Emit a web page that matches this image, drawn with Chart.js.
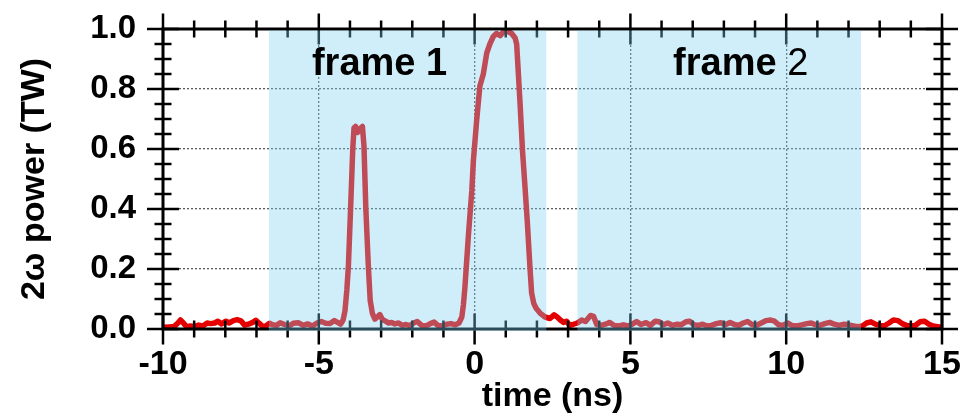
<!DOCTYPE html>
<html>
<head>
<meta charset="utf-8">
<script src="https://cdn.jsdelivr.net/npm/chart.js@4/dist/chart.umd.min.js"></script>
<style>
  html, body { margin: 0; padding: 0; background: #fff; }
</style>
</head>
<body>
<canvas id="chart" width="964" height="413"></canvas>
<script>
const timeNs = [
  -9.95, -9.80, -9.65, -9.52, -9.44, -9.36, -9.25, -9.12, -9.00, -8.86,
  -8.72, -8.58, -8.48, -8.34, -8.24, -8.12, -7.98, -7.88, -7.74, -7.62,
  -7.50, -7.38, -7.26, -7.12, -7.02, -6.92, -6.80, -6.70, -6.58, -6.48,
  -6.36, -6.24, -6.10, -5.96, -5.82, -5.66, -5.50, -5.36, -5.20, -5.06,
  -4.92, -4.78, -4.64, -4.50, -4.40, -4.30, -4.22, -4.16, -4.10, -4.05,
  -3.98, -3.91, -3.87, -3.82, -3.76, -3.68, -3.60, -3.55, -3.49, -3.41,
  -3.35, -3.28, -3.20, -3.12, -3.04, -2.96, -2.86, -2.76, -2.66, -2.56,
  -2.44, -2.32, -2.20, -2.08, -1.96, -1.84, -1.70, -1.56, -1.42, -1.30,
  -1.18, -1.04, -0.90, -0.76, -0.62, -0.50, -0.41, -0.36, -0.31, -0.20,
  -0.09, -0.04, 0.07, 0.17, 0.28, 0.39, 0.49, 0.60, 0.70, 0.82,
  0.92, 1.00, 1.10, 1.19, 1.30, 1.35, 1.40, 1.46, 1.54, 1.62,
  1.69, 1.78, 1.83, 1.90, 1.98, 2.10, 2.26, 2.42, 2.55, 2.65,
  2.75, 2.85, 2.95, 3.05, 3.15, 3.30, 3.44, 3.56, 3.72, 3.82,
  3.92, 4.06, 4.20, 4.34, 4.48, 4.62, 4.78, 4.92, 5.06, 5.20,
  5.34, 5.50, 5.64, 5.80, 5.92, 6.06, 6.20, 6.36, 6.50, 6.62,
  6.78, 6.90, 7.04, 7.18, 7.32, 7.46, 7.60, 7.76, 7.90, 8.04,
  8.20, 8.34, 8.48, 8.62, 8.76, 8.90, 9.04, 9.20, 9.36, 9.50,
  9.62, 9.76, 9.90, 10.04, 10.18, 10.34, 10.50, 10.66, 10.80, 10.94,
  11.08, 11.24, 11.40, 11.54, 11.70, 11.86, 12.00, 12.16, 12.30, 12.44,
  12.58, 12.72, 12.86, 13.00, 13.14, 13.30, 13.44, 13.58, 13.72, 13.86,
  14.00, 14.14, 14.30, 14.44, 14.58, 14.72, 14.86, 14.98
];
const powerTW = [
  0.006, 0.007, 0.008, 0.020, 0.030, 0.022, 0.008, 0.010, 0.008, 0.013,
  0.010, 0.020, 0.018, 0.020, 0.026, 0.017, 0.026, 0.020, 0.028, 0.031,
  0.027, 0.013, 0.016, 0.022, 0.029, 0.020, 0.008, 0.010, 0.019, 0.014,
  0.012, 0.021, 0.015, 0.010, 0.019, 0.021, 0.012, 0.017, 0.010, 0.020,
  0.025, 0.019, 0.018, 0.028, 0.022, 0.016, 0.030, 0.060, 0.130, 0.210,
  0.400, 0.600, 0.670, 0.675, 0.655, 0.668, 0.675, 0.610, 0.400, 0.210,
  0.095, 0.052, 0.033, 0.040, 0.048, 0.032, 0.026, 0.020, 0.022, 0.017,
  0.020, 0.012, 0.015, 0.011, 0.020, 0.025, 0.012, 0.010, 0.018, 0.023,
  0.012, 0.010, 0.016, 0.018, 0.014, 0.020, 0.040, 0.080, 0.140, 0.310,
  0.460, 0.560, 0.700, 0.810, 0.850, 0.920, 0.950, 0.975, 0.985, 0.978,
  0.990, 0.998, 0.990, 0.985, 0.970, 0.950, 0.860, 0.750, 0.590, 0.470,
  0.360, 0.200, 0.120, 0.085, 0.068, 0.053, 0.040, 0.035, 0.047, 0.040,
  0.030, 0.022, 0.026, 0.012, 0.015, 0.020, 0.030, 0.025, 0.045, 0.042,
  0.015, 0.012, 0.016, 0.022, 0.012, 0.010, 0.014, 0.010, 0.016, 0.025,
  0.015, 0.021, 0.012, 0.026, 0.024, 0.014, 0.020, 0.012, 0.016, 0.014,
  0.024, 0.026, 0.014, 0.012, 0.016, 0.010, 0.012, 0.018, 0.021, 0.014,
  0.022, 0.015, 0.012, 0.020, 0.025, 0.015, 0.012, 0.020, 0.028, 0.030,
  0.026, 0.014, 0.012, 0.020, 0.012, 0.010, 0.014, 0.018, 0.020, 0.014,
  0.012, 0.018, 0.022, 0.016, 0.012, 0.016, 0.014, 0.010, 0.008, 0.010,
  0.020, 0.024, 0.016, 0.012, 0.010, 0.020, 0.030, 0.028, 0.018, 0.012,
  0.010, 0.012, 0.024, 0.026, 0.016, 0.010, 0.008, 0.006
];

const xTicks = [-10, -5, 0, 5, 10, 15];
const yTicks = [0.0, 0.2, 0.4, 0.6, 0.8, 1.0];

// the two camera frames (ns)
const frameStart = [-6.6, 3.3];
const frameEnd = [2.3, 12.4];
const frameWord = ['frame', 'frame'];
const frameNum = ['1', '2'];

const FONT = '"Liberation Sans", Arial, sans-serif';

const axisBox = {
  id: 'axisBox',
  afterDraw(chart, args, opts) {
    const { ctx, chartArea: a, scales: { x, y } } = chart;
    ctx.save();

    // crossing ticks on all four sides
    ctx.strokeStyle = '#000';
    ctx.lineWidth = 2.5;
    ctx.beginPath();
    for (let v = x.min; v <= x.max; v += 1) {
      const px = x.getPixelForValue(v);
      const len = v % 5 === 0 ? 15.5 : 8.5;
      ctx.moveTo(px, a.top - len); ctx.lineTo(px, a.top + len);
      ctx.moveTo(px, a.bottom - len); ctx.lineTo(px, a.bottom + len);
    }
    for (let i = 0; i <= 20; i++) {
      const py = y.getPixelForValue(i * 0.05);
      const len = i % 4 === 0 ? 16 : 8.5;
      ctx.moveTo(a.left - len, py); ctx.lineTo(a.left + len, py);
      ctx.moveTo(a.right - len, py); ctx.lineTo(a.right + len, py);
    }
    ctx.stroke();

    ctx.lineWidth = 3;
    ctx.strokeRect(a.left, a.top, a.right - a.left, a.bottom - a.top);

    // translucent frame windows, laid over the trace
    ctx.fillStyle = 'rgba(125,207,242,0.36)';
    const top = a.top + 1.5;
    const bot = a.bottom + 2;
    for (let i = 0; i < frameStart.length; i++) {
      const x0 = x.getPixelForValue(frameStart[i]);
      const x1 = x.getPixelForValue(frameEnd[i]);
      ctx.fillRect(x0, top, x1 - x0, bot - top);
    }

    // frame captions
    ctx.fillStyle = '#000';
    ctx.textBaseline = 'alphabetic';
    ctx.textAlign = 'left';
    for (let i = 0; i < frameWord.length; i++) {
      const px = x.getPixelForValue(opts.labelX[i]);
      const py = y.getPixelForValue(opts.labelY);
      ctx.font = 'bold 38px ' + FONT;
      const word = frameWord[i] + ' ';
      ctx.fillText(word, px, py);
      const w = ctx.measureText(word).width;
      ctx.font = (opts.numBold[i] ? 'bold ' : '') + '38px ' + FONT;
      ctx.fillText(frameNum[i], px + w, py);
    }
    ctx.restore();
  }
};

const edgeTransparent = (lo, hi) => (c) => {
  const v = c.tick ? c.tick.value : null;
  return (v === lo || v === hi) ? 'rgba(0,0,0,0)' : '#5a5a5a';
};

new Chart(document.getElementById('chart'), {
  type: 'line',
  data: {
    datasets: [{
      data: timeNs.map((t, i) => ({ x: t, y: powerTW[i] })),
      borderColor: 'rgb(228,0,0)',
      borderWidth: 5.5,
      borderJoinStyle: 'round',
      borderCapStyle: 'round',
      pointRadius: 0,
      tension: 0,
      fill: false
    }]
  },
  options: {
    responsive: false,
    animation: false,
    events: [],
    layout: { padding: { left: 0, top: 29, right: 22, bottom: 0 } },
    plugins: {
      legend: { display: false },
      tooltip: { enabled: false },
      axisBox: { labelX: [-5.22, 6.37], labelY: 0.847, numBold: [true, false] }
    },
    scales: {
      x: {
        type: 'linear',
        min: -10,
        max: 15,
        afterBuildTicks: (s) => { s.ticks = xTicks.map(v => ({ value: v })); },
        afterFit: (s) => { s.height = 84; s.paddingLeft = 0; s.paddingRight = 0; },
        grid: { drawTicks: false, color: edgeTransparent(-10, 15), lineWidth: 1.3 },
        border: { display: false, dash: [2, 2] },
        ticks: {
          padding: 15,
          color: '#000',
          maxRotation: 0,
          font: { family: FONT, size: 34, weight: 'bold' },
          callback: (v) => String(v)
        },
        title: {
          display: true,
          text: 'time (ns)',
          color: '#000',
          padding: { top: 0, bottom: -4 },
          font: { family: FONT, size: 34, weight: 'bold' }
        }
      },
      y: {
        type: 'linear',
        min: 0,
        max: 1,
        afterBuildTicks: (s) => { s.ticks = yTicks.map(v => ({ value: v })); },
        afterFit: (s) => { s.width = 163; s.paddingTop = 0; s.paddingBottom = 0; },
        grid: { drawTicks: false, color: edgeTransparent(0, 1), lineWidth: 1.3 },
        border: { display: false, dash: [2, 2] },
        ticks: {
          padding: 27,
          color: '#000',
          font: { family: FONT, size: 33, weight: 'bold' },
          callback: (v) => Number(v).toFixed(1)
        },
        title: {
          display: true,
          text: '2ω power (TW)',
          color: '#000',
          padding: { top: 14, bottom: 0 },
          font: { family: FONT, size: 34, weight: 'bold' }
        }
      }
    }
  },
  plugins: [axisBox]
});
</script>
</body>
</html>
